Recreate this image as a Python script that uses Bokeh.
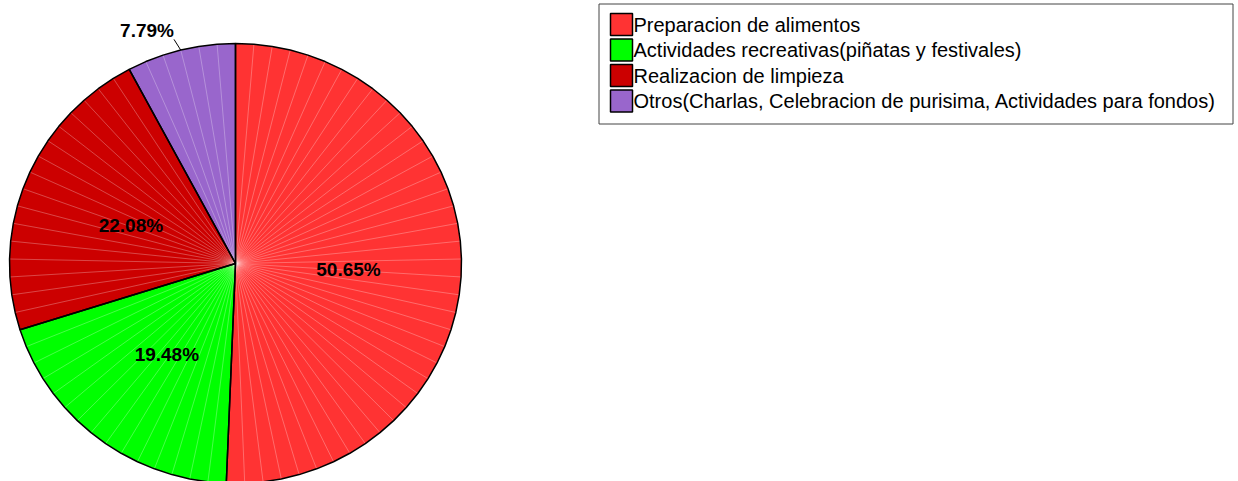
import numpy as np
from bokeh.plotting import figure
from bokeh.models import Range1d
from bokeh.embed import file_html
from bokeh.resources import INLINE
from bokeh.core.properties import value

# ---- data ----
categories = [
    "Preparacion de alimentos",
    "Actividades recreativas(piñatas y festivales)",
    "Realizacion de limpieza",
    "Otros(Charlas, Celebracion de purisima, Actividades para fondos)",
]
counts = [39, 15, 17, 6]
colors = ["#FF3333", "#00FF00", "#CC0000", "#9966CC"]

# ---- layout ----
W, H = 1238, 481
p = figure(width=W, height=H, x_range=Range1d(0, W), y_range=Range1d(H, 0),
           output_backend="svg", toolbar_location=None,
           x_axis_location=None, y_axis_location=None, min_border=0)
p.grid.visible = False
p.outline_line_color = None
p.background_fill_color = "white"

cx, cy, rx, ry = 235, 263, 226, 220
total = sum(counts)
step = 360.0 / total


def pt(theta_deg, f=1.0):
    t = np.radians(theta_deg)
    return cx + f * rx * np.sin(t), cy - f * ry * np.cos(t)


# wedges
xs, ys, mids, pcts = [], [], [], []
start = 0
for c in counts:
    angs = [(start + k) * step for k in range(c + 1)]
    px = [cx] + [pt(a)[0] for a in angs]
    py = [cy] + [pt(a)[1] for a in angs]
    xs.append(px)
    ys.append(py)
    mids.append((start + c / 2) * step)
    pcts.append(100.0 * c / total)
    start += c

p.patches(xs, ys, fill_color=colors, line_color=None)

# faint sub-wedge lines
bx0, by0, bx1, by1 = [], [], [], []
for k in range(total):
    a = k * step
    ex, ey = pt(a)
    bx0.append(cx); by0.append(cy); bx1.append(ex); by1.append(ey)
p.segment(bx0, by0, bx1, by1, line_color="white", line_alpha=0.4, line_width=0.7)

# outlines
p.patches(xs, ys, fill_color=None, line_color="black", line_width=1.5)

# labels
for m, pc in zip(mids, pcts):
    txt = f"{pc:.2f}%"
    if pc >= 10:
        lx, ly = pt(m, 0.5)
        p.text([lx], [ly + 4], text=[txt], text_font=value("Liberation Sans"),
               text_font_size="19px", text_font_style="bold", text_align="center",
               text_baseline="middle", text_color="black")
    else:
        sx, sy = pt(m, 1.0)
        ex, ey = pt(m, 1.05)
        ex -= 4
        p.segment([sx], [sy], [ex], [ey], line_color="black", line_width=1)
        p.text([ex], [ey - 9], text=[txt], text_font=value("Liberation Sans"),
               text_font_size="19px", text_font_style="bold", text_align="right",
               text_baseline="middle", text_color="black")

# legend
p.quad(left=[598.5], right=[1232.5], top=[3.5], bottom=[123.5],
       fill_color="white", line_color="#444444", line_width=1)
ly0, ldy = 24, 25.5
lys = [ly0 + i * ldy for i in range(len(categories))]
p.rect(x=[621] * len(categories), y=lys, width=22, height=22,
       fill_color=colors, line_color="black", line_width=1.5)
p.text(x=[633] * len(categories), y=lys, text=categories,
       text_font=value("Liberation Sans"), text_font_size="20px",
       text_align="left", text_baseline="middle", text_color="black")

open("out.html", "w").write(file_html(p, INLINE))
